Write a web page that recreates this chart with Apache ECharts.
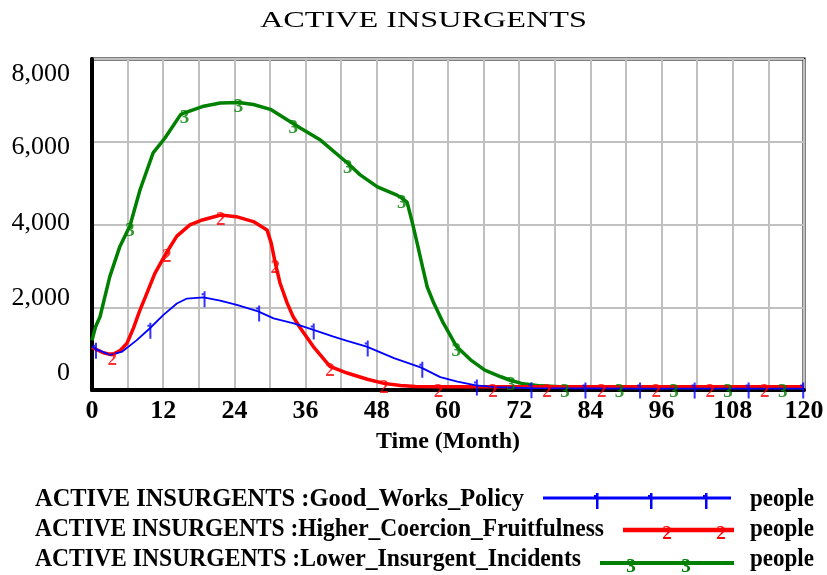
<!DOCTYPE html>
<html>
<head>
<meta charset="utf-8">
<title>ACTIVE INSURGENTS</title>
<script src="https://cdn.jsdelivr.net/npm/echarts@6/dist/echarts.min.js"></script>
<style>
  html, body { margin: 0; padding: 0; background: #fff; }
  #chart { width: 827px; height: 575px; }
</style>
</head>
<body>
<div id="chart"></div>
<script>
// axis ticks
const monthTicks = [0, 12, 24, 36, 48, 60, 72, 84, 96, 108, 120];
const valueTicks = [0, 2000, 4000, 6000, 8000];

// ACTIVE INSURGENTS : Good_Works_Policy (blue, marker "1")
const goodMonths = [0, 0.5, 1.5, 3, 5, 7.5, 9.67, 12, 14.3, 16, 18.8, 21.6, 24.4, 28, 30.6, 34, 37.2, 40.7, 43, 46.3, 50.9, 55.5, 58.7, 61.6, 64.7, 68, 73.9, 83, 92.2, 101.4, 110.5, 119.7, 120];
const goodValues = [1050, 1000, 940, 850, 920, 1200, 1480, 1810, 2090, 2210, 2240, 2160, 2055, 1900, 1730, 1610, 1460, 1290, 1190, 1050, 770, 540, 310, 200, 110, 70, 45, 38, 35, 35, 35, 35, 35];
const goodMarks = [0.5, 9.67, 18.8, 28, 37.2, 46.3, 55.5, 64.7, 73.9, 83, 92.2, 101.4, 110.5, 119.7];

// ACTIVE INSURGENTS : Higher_Coercion_Fruitfulness (red, marker "2")
const coercionMonths = [0, 1.9, 3.4, 4.8, 5.9, 7, 8, 9, 10.6, 12.6, 14.3, 16.5, 18.6, 21.7, 24.3, 27.2, 29.5, 30.2, 30.9, 31.7, 32.9, 33.9, 35.1, 37.3, 40.1, 43, 46.4, 49.2, 52, 54.5, 58.4, 67.6, 76.7, 85.9, 95.1, 104.2, 113.4, 120];
const coercionValues = [1030, 900, 850, 960, 1130, 1500, 1900, 2250, 2820, 3330, 3720, 3990, 4110, 4230, 4190, 4070, 3870, 3550, 3060, 2580, 2100, 1770, 1500, 1050, 570, 410, 260, 160, 110, 85, 80, 80, 80, 80, 80, 80, 80, 80];
const coercionMarks = [3.4, 12.6, 21.7, 30.9, 40.1, 49.2, 58.4, 67.6, 76.7, 85.9, 95.1, 104.2, 113.4];

// ACTIVE INSURGENTS : Lower_Insurgent_Incidents (green, marker "3")
const incidentMonths = [0, 0.6, 1.35, 3, 4.7, 6.4, 8.1, 10.3, 12.3, 14.9, 15.6, 18.6, 21.6, 24.7, 27.2, 30.2, 33.9, 35.1, 38.5, 43.1, 45.2, 48.1, 51.4, 52.2, 53.1, 54, 54.8, 55.7, 56.5, 57.6, 59.2, 61.4, 63.8, 66.2, 68.9, 70.6, 72.4, 75.6, 79.7, 88.9, 98.1, 107.2, 116.4, 120];
const incidentValues = [1200, 1530, 1770, 2740, 3470, 3970, 4840, 5730, 6090, 6650, 6700, 6850, 6935, 6950, 6900, 6775, 6440, 6330, 6040, 5480, 5200, 4910, 4710, 4640, 4540, 4040, 3550, 2980, 2490, 2100, 1620, 1060, 730, 480, 320, 230, 160, 100, 70, 60, 60, 60, 60, 60];
const incidentMarks = [6.4, 15.6, 24.7, 33.9, 43.1, 52.2, 61.4, 70.6, 79.7, 88.9, 98.1, 107.2, 116.4];

const BLUE = '#0000ff', RED = '#ff0000', GREEN = '#008000';
const SERIF = '"Liberation Serif", "Times New Roman", serif';
const tickPath = 'path://M2,0 H4 V16 H2 Z M0,2 H2 V4 H0 Z';

function pairs(xs, ys) {
  return xs.map((x, i) => [x, ys[i]]);
}
function markPoints(xs, ys, marks) {
  return pairs(xs, ys).filter(p => marks.includes(p[0]));
}
function textWidth(str, font) {
  const ctx = document.createElement('canvas').getContext('2d');
  ctx.font = font;
  return ctx.measureText(str).width;
}

// vensim spreads the y labels a bit tighter than the grid lines
const yShift = { 0: -17, 2000: -9, 4000: -1, 6000: 5, 8000: 15 };
const yRich = {};
valueTicks.forEach(v => {
  const s = yShift[v] || 0;
  yRich['v' + v] = {
    fontFamily: SERIF, fontSize: 26, color: '#000',
    padding: s > 0 ? [2 * s, 0, 0, 0] : [0, 0, -2 * s, 0]
  };
});

// legend (drawn by hand, vensim style)
const legendFont = 'bold 25px ' + SERIF;
const glyphFont = 'bold 19px ' + SERIF;
const titleFont = '24px ' + SERIF;
const titleScale = 327 / textWidth('ACTIVE INSURGENTS', titleFont);
const peopleScale = 64 / textWidth('people', legendFont);

const legendRows = [
  { text: 'ACTIVE INSURGENTS :Good_Works_Policy', right: 524, ty: 500, color: BLUE, ly: 498, x1: 543, x2: 731, w: 3, ticks: [597, 651, 706] },
  { text: 'ACTIVE INSURGENTS :Higher_Coercion_Fruitfulness', right: 604, ty: 530, color: RED, ly: 530, x1: 623, x2: 734, w: 4.5, glyph: '2', gx: [667, 721] },
  { text: 'ACTIVE INSURGENTS :Lower_Insurgent_Incidents', right: 581, ty: 560, color: GREEN, ly: 563, x1: 600, x2: 734, w: 4, glyph: '3', gx: [631, 686] }
];

const graphics = [{
  type: 'text', x: 260, y: 21, scaleX: titleScale,
  style: { text: 'ACTIVE INSURGENTS', font: titleFont, fill: '#000', align: 'left', verticalAlign: 'middle' }
}];
legendRows.forEach(r => {
  graphics.push({
    type: 'text', x: 35, y: r.ty, scaleX: (r.right - 35) / textWidth(r.text, legendFont),
    style: { text: r.text, font: legendFont, fill: '#000', align: 'left', verticalAlign: 'middle' }
  });
  graphics.push({
    type: 'text', x: 750, y: r.ty, scaleX: peopleScale,
    style: { text: 'people', font: legendFont, fill: '#000', align: 'left', verticalAlign: 'middle' }
  });
  graphics.push({
    type: 'line', shape: { x1: r.x1, y1: r.ly, x2: r.x2, y2: r.ly },
    style: { stroke: r.color, lineWidth: r.w }
  });
  (r.ticks || []).forEach(x => {
    graphics.push({ type: 'rect', shape: { x: x - 1, y: r.ly - 5, width: 2.5, height: 16 }, style: { fill: r.color } });
    graphics.push({ type: 'rect', shape: { x: x - 3, y: r.ly - 3, width: 2, height: 2 }, style: { fill: r.color } });
  });
  (r.gx || []).forEach(x => {
    graphics.push({
      type: 'text', x: x, y: r.ly + 4,
      style: { text: r.glyph, font: glyphFont, fill: r.color, align: 'center', verticalAlign: 'middle' }
    });
  });
});

function glyphSeries(name, xs, ys, marks, glyph, color) {
  return {
    type: 'scatter', name: name,
    data: markPoints(xs, ys, marks),
    symbol: 'circle', symbolSize: 1,
    itemStyle: { color: 'rgba(0,0,0,0)' },
    label: {
      show: true, position: 'inside', formatter: glyph, offset: [0, 5],
      color: color, fontFamily: SERIF, fontSize: 19, fontWeight: 'bold'
    },
    z: 4, silent: true
  };
}

const chart = echarts.init(document.getElementById('chart'), null, { renderer: 'canvas' });
chart.setOption({
  animation: false,
  backgroundColor: '#fff',
  grid: {
    left: 92, right: 23, top: 59, bottom: 185,
    show: true, borderColor: '#000', borderWidth: 3
  },
  xAxis: {
    type: 'value', min: 0, max: 120, interval: 6,
    name: 'Time (Month)', nameLocation: 'middle', nameGap: 40,
    nameTextStyle: { fontFamily: SERIF, fontSize: 24, fontWeight: 'bold', color: '#000' },
    axisLine: { show: true, lineStyle: { color: '#000', width: 4 } },
    axisTick: { show: false },
    axisLabel: {
      margin: 8, fontFamily: SERIF, fontSize: 26, fontWeight: 'bold', color: '#000',
      formatter: v => monthTicks.includes(v) ? String(v) : ''
    },
    splitLine: { show: true, lineStyle: { color: '#c0c0c0', width: 2 } }
  },
  yAxis: {
    type: 'value', min: 0, max: 8000, interval: 2000,
    axisLine: { show: true, lineStyle: { color: '#000', width: 4 } },
    axisTick: { show: false },
    axisLabel: {
      margin: 22,
      formatter: v => '{v' + v + '|' + v.toLocaleString('en-US') + '}',
      rich: yRich
    },
    splitLine: { show: true, lineStyle: { color: '#c0c0c0', width: 2 } }
  },
  series: [
    {
      type: 'line', name: 'Lower_Insurgent_Incidents',
      data: pairs(incidentMonths, incidentValues),
      symbol: 'none', lineStyle: { color: GREEN, width: 3.5 }, itemStyle: { color: GREEN }, z: 2
    },
    {
      type: 'line', name: 'Higher_Coercion_Fruitfulness',
      data: pairs(coercionMonths, coercionValues),
      symbol: 'none', lineStyle: { color: RED, width: 3.5 }, itemStyle: { color: RED }, z: 3
    },
    {
      type: 'line', name: 'Good_Works_Policy',
      data: pairs(goodMonths, goodValues),
      symbol: 'none', lineStyle: { color: BLUE, width: 1.8 }, itemStyle: { color: BLUE }, z: 3
    },
    glyphSeries('Lower_Insurgent_Incidents', incidentMonths, incidentValues, incidentMarks, '3', GREEN),
    glyphSeries('Higher_Coercion_Fruitfulness', coercionMonths, coercionValues, coercionMarks, '2', RED),
    {
      type: 'scatter', name: 'Good_Works_Policy',
      data: markPoints(goodMonths, goodValues, goodMarks),
      symbol: tickPath, symbolSize: [4, 16], symbolOffset: [0, 2],
      itemStyle: { color: BLUE }, z: 4, silent: true
    }
  ],
  graphic: graphics
});
</script>
</body>
</html>
